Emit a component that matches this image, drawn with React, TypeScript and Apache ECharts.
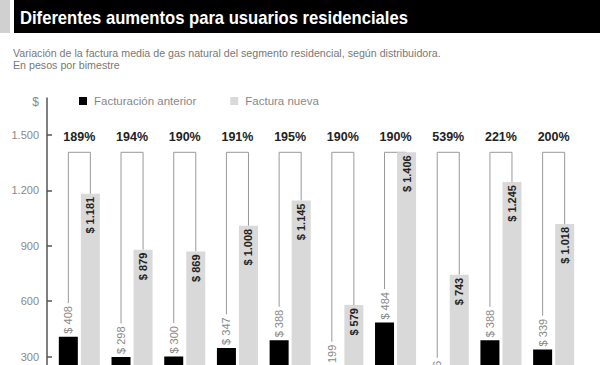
import React, { useEffect, useRef } from "react";
import * as echarts from "echarts";

const distribuidoras = [
  "Metrogas",
  "Gas Natural BAN",
  "Camuzzi Gas Pampeana",
  "Camuzzi Gas del Sur",
  "Litoral Gas",
  "Gasnor",
  "Ecogas Cuyana",
  "Gasnea",
  "Ecogas Centro",
  "Redengas",
];
const facturacionAnterior = [408, 298, 300, 347, 388, 199, 484, 116, 388, 339];
const facturaNueva = [1181, 879, 869, 1008, 1145, 579, 1406, 743, 1245, 1018];
const aumentos = ["189%", "194%", "190%", "191%", "195%", "190%", "190%", "539%", "221%", "200%"];
const yTickStep = 300;

const FONT = "'Liberation Sans', Arial, Helvetica, sans-serif";
const BAR_W = 19;
const BAR_GAP_PCT = 16;
const LABEL_DIST = 3;

const fmt = (n: number) => String(n).replace(/\B(?=(\d{3})+(?!\d))/g, ".");

let ctx: CanvasRenderingContext2D | null = null;
function measure(text: string, font: string) {
  if (!ctx) ctx = document.createElement("canvas").getContext("2d");
  if (!ctx) return text.length * 5.5;
  ctx.font = font;
  return ctx.measureText(text).width;
}

export default function App() {
  const ref = useRef<HTMLDivElement>(null);
  useEffect(() => {
    if (!ref.current) return;
    const chart = echarts.init(ref.current, undefined, { renderer: "svg" });
    const level = Math.max(...facturaNueva);
    const gapPx = (BAR_W * BAR_GAP_PCT) / 100;
    const off = BAR_W / 2 + gapPx / 2;
    const oldLabelFont = `11px ${FONT}`;

    chart.setOption({
      animation: false,
      graphic: [
        { type: "rect", shape: { x: 0, y: 0, width: 10, height: 33 }, style: { fill: "#d0d0d0" } },
        { type: "rect", shape: { x: 14, y: 0, width: 586, height: 33 }, style: { fill: "#000" } },
        {
          type: "text",
          x: 20,
          y: 18,
          scaleX: 0.875,
          style: {
            text: "Diferentes aumentos para usuarios residenciales",
            font: `bold 19px ${FONT}`,
            fill: "#fff",
            verticalAlign: "middle",
          },
        },
        {
          type: "text",
          x: 13,
          y: 53,
          scaleX: 0.97,
          style: {
            text: "Variación de la factura media de gas natural del segmento residencial, según distribuidora.",
            font: `11px ${FONT}`,
            fill: "#777",
            verticalAlign: "middle",
          },
        },
        {
          type: "text",
          x: 13,
          y: 65,
          scaleX: 0.97,
          style: { text: "En pesos por bimestre", font: `11px ${FONT}`, fill: "#777", verticalAlign: "middle" },
        },
        {
          type: "text",
          x: 39,
          y: 102,
          style: { text: "$", font: `12px ${FONT}`, fill: "#888", align: "right", verticalAlign: "middle" },
        },
      ],
      legend: {
        left: 79,
        top: 95,
        padding: 0,
        itemWidth: 8,
        itemHeight: 8,
        itemGap: 34,
        icon: "rect",
        data: ["Facturación anterior", "Factura nueva"],
        textStyle: { color: "#888", fontSize: 11.5, fontFamily: FONT, padding: [0, 0, 0, 2] },
      },
      grid: { left: 53, right: 20, top: 98, bottom: -47, outerBoundsMode: "none", containLabel: false },
      xAxis: {
        type: "category",
        data: distribuidoras,
        axisLine: { show: false },
        axisTick: { show: false },
        axisLabel: { show: false },
      },
      yAxis: {
        type: "value",
        min: 0,
        max: 1700,
        interval: yTickStep,
        offset: 6,
        axisLine: { show: true, lineStyle: { color: "#555", width: 1.5 } },
        axisTick: { show: true, inside: true, length: 5, lineStyle: { color: "#555", width: 1.5 } },
        axisLabel: {
          color: "#888",
          fontSize: 11,
          fontFamily: FONT,
          margin: 8,
          showMaxLabel: false,
          formatter: (v: number) => fmt(v),
        },
        splitLine: { show: false },
      },
      series: [
        {
          name: "Facturación anterior",
          type: "bar",
          data: facturacionAnterior,
          barWidth: BAR_W,
          barGap: BAR_GAP_PCT + "%",
          itemStyle: { color: "#000" },
          label: {
            show: true,
            position: "top",
            distance: LABEL_DIST,
            rotate: 90,
            align: "left",
            verticalAlign: "middle",
            color: "#888",
            fontSize: 11,
            fontFamily: FONT,
            formatter: (p: any) => "$ " + fmt(p.value),
          },
        },
        {
          name: "Factura nueva",
          type: "bar",
          data: facturaNueva,
          barWidth: BAR_W,
          itemStyle: { color: "#d9d9d9" },
          label: {
            show: true,
            position: "insideTop",
            distance: LABEL_DIST,
            rotate: 90,
            align: "right",
            verticalAlign: "middle",
            color: "#222",
            fontWeight: "bold",
            fontSize: 11,
            fontFamily: FONT,
            formatter: (p: any) => "$ " + fmt(p.value),
          },
        },
        {
          name: "brackets",
          type: "custom",
          silent: true,
          data: distribuidoras.map((_, i) => [i, facturacionAnterior[i], facturaNueva[i]]),
          renderItem: (params: any, api: any) => {
            const i = api.value(0);
            const oldV = api.value(1);
            const newV = api.value(2);
            const top = api.coord([i, level]);
            const cx = top[0];
            const yTop = top[1];
            const yOld = api.coord([i, oldV])[1];
            const yNew = api.coord([i, newV])[1];
            const xl = cx - off;
            const xr = cx + off;
            const lblW = measure("$ " + fmt(oldV), oldLabelFont);
            const yl = yOld - LABEL_DIST - lblW - 3;
            return {
              type: "group",
              children: [
                {
                  type: "polyline",
                  shape: { points: [[xl, yl], [xl, yTop], [xr, yTop], [xr, yNew]] },
                  style: { stroke: "#999", lineWidth: 1, fill: "none" },
                },
                {
                  type: "text",
                  style: {
                    text: aumentos[i],
                    x: cx,
                    y: yTop - 15,
                    align: "center",
                    verticalAlign: "middle",
                    font: `bold 12.5px ${FONT}`,
                    fill: "#222",
                  },
                },
              ],
            };
          },
        },
      ],
    });
    return () => chart.dispose();
  }, []);
  return <div ref={ref} style={{ position: "absolute", left: 0, top: 0, width: 600, height: 365 }} />;
}
